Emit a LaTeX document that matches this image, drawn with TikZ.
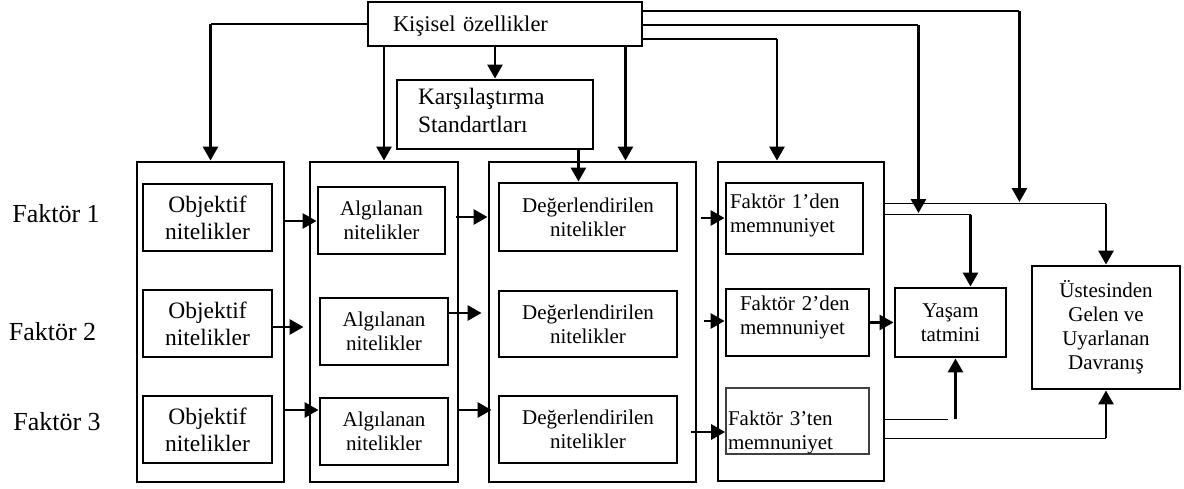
\documentclass[tikz,border=0pt]{standalone}
\usepackage{fontspec}
\setmainfont{Liberation Serif}
\usetikzlibrary{arrows.meta,calc}

\newcommand\fs[2]{\fontsize{#1}{#2}\selectfont}
% \putbox{style}{name}{x1}{y1}{x2}{y2}{text}: a box between two corners
\newcommand\putbox[7]{%
  \node[#1, minimum width={#5-#3}, minimum height={#6-#4}] (#2)
    at ({(#3+#5)/2},{(#4+#6)/2}) {#7};}

\tikzset{
  frame/.style={draw, line width=2.9pt, inner sep=0pt},
  cell/.style={draw, line width=2.9pt, inner sep=1pt, align=center, font=\fs{21}{24}},
  objcell/.style={cell, font=\fs{23.5}{27}},
  leftcell/.style={draw, line width=2.9pt, inner sep=0pt, align=left},
  ar/.style={line width=2.8pt, -{Triangle[length=14pt,width=15pt]}},
  ln/.style={line width=1.7pt},
  lab/.style={anchor=base, font=\fs{26}{30}},
}

\begin{document}
\begin{tikzpicture}[x=1pt,y=-1pt]
\useasboundingbox[fill=white] (0,0) rectangle (1184,489);

% column frames
\putbox{frame}{o1}{137}{162}{284}{482}{}
\putbox{frame}{o2}{310}{162}{458}{482}{}
\putbox{frame}{o3}{489}{162}{696}{482}{}
\putbox{frame}{o4}{718}{162}{884}{481}{}

% objective attributes
\putbox{objcell}{a1}{143}{184}{272}{251}{Objektif\\nitelikler}
\putbox{objcell}{a2}{143}{290}{272}{357}{Objektif\\nitelikler}
\putbox{objcell}{a3}{143}{396}{272}{463}{Objektif\\nitelikler}

% perceived attributes
\putbox{cell}{b1}{318}{187}{445}{254}{Algılanan\\nitelikler}
\putbox{cell}{b2}{320}{298}{448}{365}{Algılanan\\nitelikler}
\putbox{cell}{b3}{320}{398}{448}{465}{Algılanan\\nitelikler}

% evaluated attributes
\putbox{cell}{c1}{499}{183}{677}{251}{Değerlendirilen\\nitelikler}
\putbox{cell}{c2}{499}{291}{677}{357}{Değerlendirilen\\nitelikler}
\putbox{cell}{c3}{499}{396}{677}{463}{Değerlendirilen\\nitelikler}

% satisfaction per factor
\putbox{leftcell, text width=129pt, text height=26pt, text depth=45pt, font=\fs{21}{24}}{f1}{726}{183}{863}{254}{Faktör 1’den\\memnuniyet}
\putbox{leftcell, text width=115pt, text height=22pt, text depth=45pt, font=\fs{21}{24}}{f2}{726}{289}{869}{356}{Faktör 2’den\\memnuniyet}
\putbox{leftcell, line width=1.6pt, draw=black!75, text width=139pt, text height=37pt, text depth=29pt, font=\fs{21}{24}}{f3}{726}{388}{869}{454}{Faktör 3’ten\\memnuniyet}

% outcomes
\putbox{cell}{ya}{895}{288}{1006}{357}{Yaşam\\tatmini}
\putbox{cell}{us}{1032}{266}{1180}{389}{Üstesinden\\Gelen ve\\Uyarlanan\\Davranış}

% personal characteristics and comparison standards
\putbox{leftcell, text width=224pt, text height=30pt, text depth=14pt, font=\fs{22.5}{27}}{ks}{368}{2}{642}{46}{Kişisel özellikler}
\putbox{leftcell, text width=154pt, text height=25pt, text depth=44pt, font=\fs{23.5}{28}}{kr}{397}{80}{593}{149}{Karşılaştırma\\Standartları}

% row labels
\node[lab] (l1) at (56,223) {Faktör 1};
\node[lab] (l2) at (52.5,340) {Faktör 2};
\node[lab] (l3) at (57,430) {Faktör 3};

% feeds from the personal characteristics box
\coordinate (k1) at (ks.west -| o1.north);
\draw[ln] (ks.west) -- (k1);
\draw[ar] (k1) -- (o1.north);
\draw[ar] (ks.south -| o2.north) -- (o2.north);
\draw[ar] (ks.south -| kr.north) -- (kr.north);
\coordinate (kd) at ($(kr.south east)+(-16,0)$);
\draw[ar] (kd) -- (kd |- c1.north);
\coordinate (ko) at ($(ks.south east)+(-18,0)$);
\draw[ar] (ko) -- (ko |- o3.north);

\coordinate (e1) at ($(ks.east)+(0,15)$);
\coordinate (e2) at ($(ks.east)+(0,1)$);
\coordinate (e3) at ($(ks.east)+(0,-13)$);
\coordinate (n4) at ($(o4.north)+(-24,0)$);
\coordinate (h1) at ($(o4.north east)+(0,43)$);
\coordinate (h2) at ($(o4.north east)+(0,54)$);
\coordinate (p2) at ($(h2)+(33,-1.5)$);
\coordinate (p3) at ($(h1)+(134,-1.5)$);

\draw[ln] (e1) -- (e1 -| n4);
\draw[ar] (e1 -| n4) -- (n4);
\draw[ln] (e2) -- (e2 -| p2);
\draw[ar] (e2 -| p2) -- (p2);
\draw[ln] (e3) -- (e3 -| p3);
\draw[ar] (e3 -| p3) -- (p3);

% outputs of the first factor
\coordinate (yn) at ($(ya.north)+(20,0)$);
\draw[ln] (h1) -- (h1 -| us.north);
\draw[ar] (h1 -| us.north) -- (us.north);
\draw[ln] (h2) -- (h2 -| yn);
\draw[ar] (h2 -| yn) -- (yn);

% second factor to life satisfaction
\draw[ar] (f2.east) -- (ya.west);

% outputs of the third factor
\coordinate (g1) at ($(o4.south east)+(0,-63)$);
\coordinate (g2) at ($(o4.south east)+(0,-44)$);
\coordinate (yb) at ($(ya.south)+(5,0)$);
\coordinate (ye) at (g1 -| yb);
\draw[ln] (g1) -- ([xshift=-8pt]ye);
\draw[ar] (ye) -- (yb);
\draw[ln] (g2) -- (g2 -| us.south);
\draw[ar] (g2 -| us.south) -- (us.south);

% flow between the columns
\draw[ar] (o1.east |- 0,221) -- (b1.west |- 0,221);
\draw[ar, shorten >=5pt] (a2.east |- 0,327) -- (o2.west |- 0,327);
\draw[ar] (o1.east |- 0,410) -- (b3.west |- 0,410);

\draw[ar, shorten <=-3pt] (o2.east |- 0,217) -- (o3.west |- 0,217);
\draw[ar, shorten >=6pt] (b2.east |- 0,313) -- (o3.west |- 0,313);
\draw[ar, shorten >=-4pt] (o2.east |- 0,410) -- (o3.west |- 0,410);

\draw[ar, shorten <=4pt] (o3.east |- 0,218) -- (f1.west |- 0,218);
\draw[ar, shorten <=7pt] (o3.east |- 0,321) -- (f2.west |- 0,321);
\draw[ar, shorten <=-6pt] (o3.east |- 0,432) -- (f3.west |- 0,432);
\end{tikzpicture}
\end{document}
